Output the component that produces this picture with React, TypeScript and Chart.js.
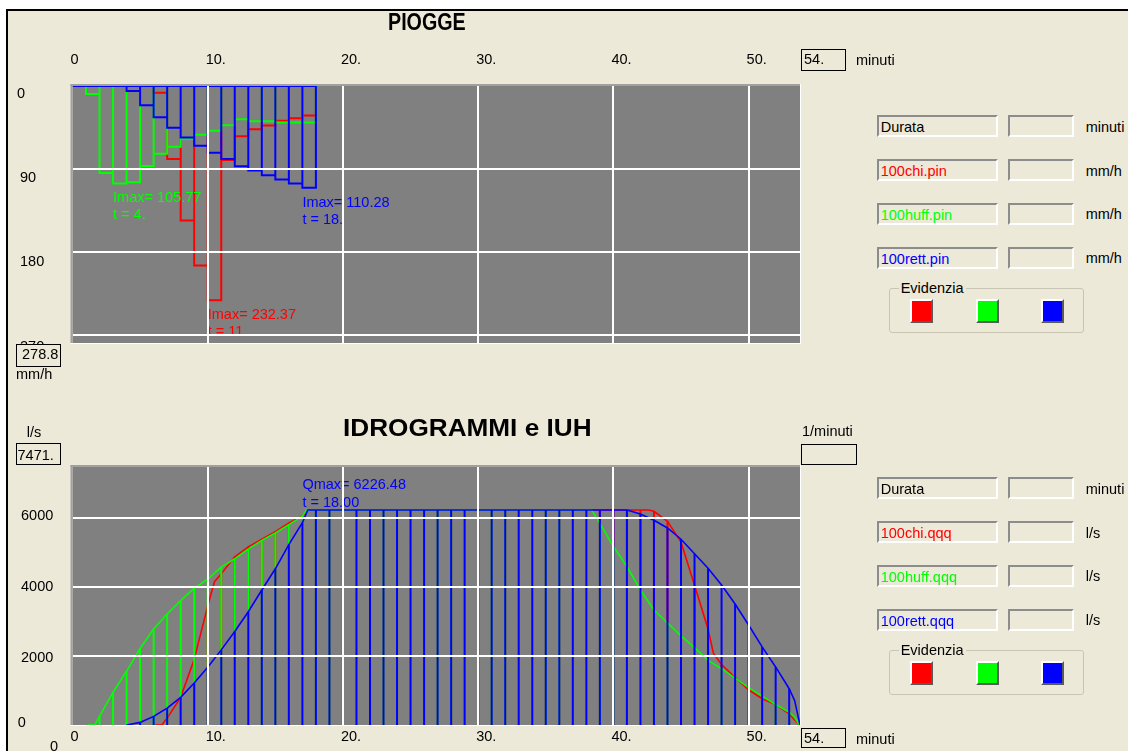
import React, { useEffect, useRef } from 'react';
import { Chart, registerables } from 'chart.js';

Chart.register(...registerables);

const FONT = '"Liberation Sans", Arial, sans-serif';
const FS = 14.5;
const RED = '#ff0000';
const GREEN = '#00ff00';
const BLUE = '#0000ff';
const GRID = '#ffffff';
const PLOT_BG = '#808080';
const PANEL_BG = '#ece9d8';

// time axis (minutes), shared by both charts
const X_MAX = 53.8;
const X_TICKS = [0, 10, 20, 30, 40, 50];

// ---------- PIOGGE: hyetographs, mm/h for each 1-minute interval ----------
const RAIN_Y_MAX = 278.8;
const RAIN_Y_TICKS = [0, 90, 180, 270];
const RAIN_RED = [0, 0, 0, 0, 0, 0, 7.2, 79.2, 145.8, 194.8, 232.37, 80.3, 54.4, 46.8, 42.8, 37.8, 34.9, 32.0];
const RAIN_GREEN = [0, 8.6, 94.3, 105.77, 104.4, 86.8, 73.4, 65.9, 57.2, 52.9, 48.6, 42.5, 36.0, 38.2, 38.2, 39.6, 39.6, 39.6];
const RAIN_BLUE = [0, 0, 0, 0, 5.4, 20.9, 33.8, 45.4, 55.8, 64.8, 72.4, 79.2, 87.1, 91.8, 96.8, 101.5, 105.8, 110.28];

// ---------- IDROGRAMMI: discharge l/s at each whole minute 0..53 ----------
const Q_Y_MAX = 7471;
const Q_Y_TICKS = [0, 2000, 4000, 6000];
const P = 6226.48;
const Q_RED = [null, null, null, null, null, null, null, 200, 800, 1900, 3450, 4380, 4870, 5160, 5380, 5600, 5850, 6050,
  P, P, P, P, P, P, P, P, P, P, P, P, P, P, P, P, P, P, P, P, P, P, P, P, P,
  6190, 5900, 5300, 4050, 2780, 1750, 1370, 1020, 760, 590, 320];
const Q_GREEN = [null, null, 250, 950, 1555, 2215, 2778, 3212, 3601, 3960, 4221, 4570, 4813, 5095, 5347, 5560, 5803, 6046,
  P, P, P, P, P, P, P, P, P, P, P, P, P, P, P, P, P, P, P, P, P,
  5840, 5172, 4590, 3910, 3330, 2960, 2580, 2242, 1873, 1630, 1360, 1080, 837, 594, 371];
const Q_BLUE = [null, null, null, null, 0, 75, 250, 490, 800, 1215, 1670, 2175, 2710, 3280, 3910, 4524, 5222, 5860,
  P, P, P, P, P, P, P, P, P, P, P, P, P, P, P, P, P, P, P, P, P, P, P, P,
  6110, 5930, 5706, 5380, 4960, 4541, 4056, 3505, 2895, 2263, 1681, 1050];
// extra (non whole-minute) vertices of the curves
const Q_RED_BREAK_T = [6.1, 6.6, 10.5, 17.4, 42.6, 47.4, 53.75];
const Q_RED_BREAK_V = [0, 0, 4150, P, P, 2070, 0];
const Q_GREEN_BREAK_T = [1.15, 1.65, 17.3, 38.4, 53.4, 53.75];
const Q_GREEN_BREAK_V = [0, 0, P, P, 225, 0];
const Q_BLUE_BREAK_T = [17.4, 53.4, 53.8];
const Q_BLUE_BREAK_V = [P, 711, 0];

const RAIN_FILES = ['100chi.pin', '100huff.pin', '100rett.pin'];
const Q_FILES = ['100chi.qqq', '100huff.qqq', '100rett.qqq'];
const SERIES_COLORS = [RED, GREEN, BLUE];

type Pt = { x: number; y: number | null };

function rainOutline(vals: number[]): Pt[] {
  const pts: Pt[] = [{ x: 0, y: 0 }];
  vals.forEach((v, i) => {
    pts.push({ x: i, y: v }, { x: i + 1, y: v }, { x: i + 1, y: 0 });
  });
  pts.push({ x: 0, y: 0 });
  return pts;
}

function curve(vals: (number | null)[], bt: number[], bv: number[]): Pt[] {
  const pts: Pt[] = [];
  vals.forEach((v, i) => { if (v !== null) pts.push({ x: i, y: v }); });
  bt.forEach((t, k) => pts.push({ x: t, y: bv[k] }));
  pts.sort((a, b) => a.x - b.x);
  return pts;
}

function verticals(vals: (number | null)[]): Pt[] {
  const pts: Pt[] = [];
  vals.forEach((v, i) => {
    if (v) pts.push({ x: i, y: 0 }, { x: i, y: v }, { x: i, y: null });
  });
  return pts;
}

const bgPlugin = {
  id: 'plotBg',
  beforeDraw(chart: any) {
    const { ctx, chartArea: a } = chart;
    ctx.save();
    ctx.fillStyle = PLOT_BG;
    ctx.fillRect(a.left, a.top, a.right - a.left, a.bottom - a.top);
    ctx.restore();
  },
};

const framePlugin = {
  id: 'frame',
  afterDraw(chart: any) {
    const { ctx, chartArea: a } = chart;
    ctx.save();
    ctx.fillStyle = '#a0a0a0';
    ctx.fillRect(a.left - 2, a.top - 2, a.right - a.left + 2, 2);
    ctx.fillRect(a.left - 2, a.top - 2, 2, a.bottom - a.top + 2);
    ctx.fillStyle = '#ffffff';
    ctx.fillRect(a.left - 2, a.bottom, a.right - a.left + 3, 1);
    ctx.fillRect(a.right, a.top - 2, 1, a.bottom - a.top + 3);
    ctx.restore();
  },
};

function gridOpts() {
  return {
    z: 1,
    lineWidth: 2,
    drawTicks: false,
    color: (c: any) => (c.tick && c.tick.value === 0 ? 'rgba(0,0,0,0)' : GRID),
  };
}

function peakOf(vals: (number | null)[]) {
  let best = -Infinity;
  let idx = 0;
  vals.forEach((v, i) => { if (v !== null && v > best) { best = v; idx = i; } });
  return { value: best, index: idx };
}

function TopChart() {
  const ref = useRef<HTMLCanvasElement>(null);
  useEffect(() => {
    const series = [
      { vals: RAIN_RED, color: RED },
      { vals: RAIN_GREEN, color: GREEN },
      { vals: RAIN_BLUE, color: BLUE },
    ];
    const chart = new Chart(ref.current as HTMLCanvasElement, {
      type: 'line',
      data: {
        datasets: series.map((s, k) => ({
          data: rainOutline(s.vals) as any,
          borderColor: s.color,
          borderWidth: 2,
          pointRadius: 0,
          fill: false,
          tension: 0,
          order: 10 - k,
        })),
      },
      options: {
        animation: false,
        responsive: false,
        events: [],
        layout: { padding: { left: 0, top: 0, right: 20, bottom: 37 } },
        plugins: { legend: { display: false }, tooltip: { enabled: false } },
        scales: {
          x: {
            type: 'linear', position: 'top', min: 0, max: X_MAX,
            afterBuildTicks: (s: any) => { s.ticks = X_TICKS.map((value) => ({ value })); },
            afterFit: (s: any) => { s.height = 86; },
            ticks: { display: false },
            border: { display: false },
            grid: gridOpts() as any,
          },
          y: {
            type: 'linear', reverse: true, min: 0, max: RAIN_Y_MAX,
            afterBuildTicks: (s: any) => { s.ticks = RAIN_Y_TICKS.map((value) => ({ value })); },
            afterFit: (s: any) => { s.width = 72.5; },
            ticks: { display: false },
            border: { display: false },
            grid: gridOpts() as any,
          },
        },
      },
      plugins: [
        bgPlugin,
        framePlugin,
        {
          id: 'rainText',
          afterDatasetsDraw(c: any) {
            const { ctx, chartArea: a, scales } = c;
            ctx.save();
            ctx.beginPath();
            ctx.rect(a.left, a.top, a.right - a.left, a.bottom - a.top);
            ctx.clip();
            ctx.font = `${FS}px ${FONT}`;
            ctx.textBaseline = 'alphabetic';
            ctx.textAlign = 'left';
            series.forEach((s) => {
              const pk = peakOf(s.vals);
              const x = scales.x.getPixelForValue(pk.index);
              const y = scales.y.getPixelForValue(pk.value);
              ctx.fillStyle = s.color;
              ctx.fillText(`Imax= ${pk.value.toFixed(2)}`, x, y + 19);
              ctx.fillText(`t = ${pk.index + 1}.`, x, y + 36);
            });
            ctx.restore();
          },
          afterDraw(c: any) {
            const { ctx, scales } = c;
            ctx.save();
            ctx.font = `${FS}px ${FONT}`;
            ctx.fillStyle = '#000';
            ctx.textBaseline = 'alphabetic';
            ctx.textAlign = 'left';
            X_TICKS.forEach((v) => {
              const px = scales.x.getPixelForValue(v);
              ctx.fillText(v === 0 ? '0' : `${v}.`, px - 2, 64.3);
            });
            RAIN_Y_TICKS.forEach((v) => {
              const py = scales.y.getPixelForValue(v);
              ctx.fillText(String(v), v === 0 ? 17 : 20, py + 11.5 + v / 60);
            });
            ctx.restore();
          },
        },
      ],
    } as any);
    return () => chart.destroy();
  }, []);
  return <canvas ref={ref} width={820} height={380} style={{ position: 'absolute', left: 0, top: 0, display: 'block' }} />;
}

function BottomChart() {
  const ref = useRef<HTMLCanvasElement>(null);
  useEffect(() => {
    const series = [
      { vals: Q_RED, bt: Q_RED_BREAK_T, bv: Q_RED_BREAK_V, color: RED },
      { vals: Q_GREEN, bt: Q_GREEN_BREAK_T, bv: Q_GREEN_BREAK_V, color: GREEN },
      { vals: Q_BLUE, bt: Q_BLUE_BREAK_T, bv: Q_BLUE_BREAK_V, color: BLUE },
    ];
    const datasets: any[] = [];
    series.forEach((s, k) => {
      datasets.push({
        data: verticals(s.vals), borderColor: s.color, borderWidth: 2, pointRadius: 0,
        fill: false, tension: 0, spanGaps: false, order: 20 - 2 * k,
      });
      datasets.push({
        data: curve(s.vals, s.bt, s.bv), borderColor: s.color, borderWidth: 1.6, pointRadius: 0,
        fill: false, tension: 0, order: 19 - 2 * k,
      });
    });
    const blue = peakOf(Q_BLUE);
    const chart = new Chart(ref.current as HTMLCanvasElement, {
      type: 'line',
      data: { datasets },
      options: {
        animation: false,
        responsive: false,
        events: [],
        layout: { padding: { left: 0, top: 87, right: 20, bottom: 0 } },
        plugins: { legend: { display: false }, tooltip: { enabled: false } },
        scales: {
          x: {
            type: 'linear', position: 'bottom', min: 0, max: X_MAX,
            afterBuildTicks: (s: any) => { s.ticks = X_TICKS.map((value) => ({ value })); },
            afterFit: (s: any) => { s.height = 26; },
            ticks: { display: false },
            border: { display: false },
            grid: gridOpts() as any,
          },
          y: {
            type: 'linear', min: 0, max: Q_Y_MAX,
            afterBuildTicks: (s: any) => { s.ticks = Q_Y_TICKS.map((value) => ({ value })); },
            afterFit: (s: any) => { s.width = 72.5; },
            ticks: { display: false },
            border: { display: false },
            grid: gridOpts() as any,
          },
        },
      },
      plugins: [
        bgPlugin,
        framePlugin,
        {
          id: 'qText',
          afterDatasetsDraw(c: any) {
            const { ctx, chartArea: a, scales } = c;
            ctx.save();
            ctx.beginPath();
            ctx.rect(a.left, a.top, a.right - a.left, a.bottom - a.top);
            ctx.clip();
            ctx.font = `${FS}px ${FONT}`;
            ctx.textBaseline = 'alphabetic';
            ctx.textAlign = 'left';
            const x = scales.x.getPixelForValue(blue.index - 1);
            const y = scales.y.getPixelForValue(blue.value);
            ctx.fillStyle = BLUE;
            ctx.fillText(`Qmax= ${blue.value.toFixed(2)}`, x, y - 21);
            ctx.fillText(`t = ${blue.index.toFixed(2)}`, x, y - 3);
            ctx.restore();
          },
          afterDraw(c: any) {
            const { ctx, scales } = c;
            ctx.save();
            ctx.font = `${FS}px ${FONT}`;
            ctx.fillStyle = '#000';
            ctx.textBaseline = 'alphabetic';
            ctx.textAlign = 'left';
            X_TICKS.forEach((v) => {
              const px = scales.x.getPixelForValue(v);
              ctx.fillText(v === 0 ? '0' : `${v}.`, px - 2, 361);
            });
            Q_Y_TICKS.forEach((v) => {
              const py = scales.y.getPixelForValue(v);
              const base = v === 0 ? py + 1.5 : py + 2.5 + (6000 - v) / 1000;
              ctx.fillText(String(v), v === 0 ? 17.7 : 21, base);
            });
            ctx.restore();
          },
        },
      ],
    } as any);
    return () => chart.destroy();
  }, []);
  return <canvas ref={ref} width={820} height={371} style={{ position: 'absolute', left: 0, top: 380, display: 'block' }} />;
}

function Txt(props: { x: number; base: number; children: React.ReactNode; color?: string; size?: number; bold?: boolean; sx?: number }) {
  const size = props.size || FS;
  return (
    <span
      style={{
        position: 'absolute', left: props.x, top: props.base - 0.8465 * size, fontSize: size, lineHeight: 1,
        fontWeight: props.bold ? 'bold' : 'normal', color: props.color || '#000', whiteSpace: 'nowrap',
        fontFamily: FONT, transform: props.sx ? `scaleX(${props.sx})` : undefined, transformOrigin: 'left top',
      }}
    >
      {props.children}
    </span>
  );
}

function BlackBox(props: { x: number; y: number; w: number; h: number }) {
  return (
    <div
      style={{
        position: 'absolute', left: props.x, top: props.y, width: props.w, height: props.h, boxSizing: 'border-box',
        border: '1px solid #000', background: PANEL_BG,
      }}
    />
  );
}

function Sunken(props: { x: number; y: number; w: number; h: number }) {
  return (
    <div
      style={{
        position: 'absolute', left: props.x, top: props.y, width: props.w, height: props.h, boxSizing: 'border-box',
        borderStyle: 'solid', borderWidth: 2, borderColor: '#8c8c8c #ffffff #ffffff #8c8c8c',
      }}
    />
  );
}

function SidePanel(props: { dy: number; files: string[]; units: string[] }) {
  const rows = [115, 159, 202.7, 246.7];
  const names = ['Durata', ...props.files];
  const colors = ['#000', ...SERIES_COLORS];
  const dy = props.dy;
  return (
    <>
      {rows.map((r, i) => (
        <React.Fragment key={i}>
          <Sunken x={877.3} y={dy + r} w={121} h={22.3} />
          <Sunken x={1008.3} y={dy + r} w={65.7} h={22.3} />
          <Txt x={880.7} base={dy + r + 17.3} color={colors[i]}>{names[i]}</Txt>
          <Txt x={1085.7} base={dy + r + 16.8}>{props.units[i]}</Txt>
        </React.Fragment>
      ))}
      <div
        style={{
          position: 'absolute', left: 889.3, top: dy + 288.3, width: 195, height: 45, boxSizing: 'border-box',
          border: '1px solid #c8c5b5', borderRadius: 3,
        }}
      />
      <span
        style={{
          position: 'absolute', left: 898.7, top: dy + 293.7 - 0.8465 * FS, fontSize: FS, lineHeight: 1, padding: '0 2px',
          background: PANEL_BG, fontFamily: FONT, color: '#000',
        }}
      >
        Evidenzia
      </span>
      {[910, 975.7, 1041].map((x, i) => (
        <div
          key={i}
          style={{
            position: 'absolute', left: x, top: dy + 299.3, width: 23.3, height: 24, boxSizing: 'border-box',
            borderStyle: 'solid', borderWidth: 2, borderColor: '#ffffff #5a5a5a #5a5a5a #ffffff', background: SERIES_COLORS[i],
          }}
        />
      ))}
    </>
  );
}

export default function App() {
  return (
    <div style={{ position: 'absolute', left: 0, top: 0, width: 1128, height: 751, overflow: 'hidden', background: '#fff', fontFamily: FONT }}>
      <div
        style={{
          position: 'absolute', left: 6, top: 9, width: 1130, height: 750, boxSizing: 'border-box', background: PANEL_BG,
          borderLeft: '2px solid #000', borderTop: '2px solid #000',
        }}
      />
      <TopChart />
      <BottomChart />

      <Txt x={388} base={30.7} size={24} bold sx={0.82}>PIOGGE</Txt>
      <Txt x={343} base={436} size={24} bold sx={1.09}>IDROGRAMMI e IUH</Txt>

      <BlackBox x={801} y={49} w={45} h={22} />
      <Txt x={804} base={64.7}>54.</Txt>
      <Txt x={856} base={65.7}>minuti</Txt>

      <BlackBox x={16} y={344} w={45} h={23} />
      <Txt x={22} base={359.3}>278.8</Txt>
      <Txt x={16} base={379}>mm/h</Txt>

      <Txt x={26.7} base={437}>l/s</Txt>
      <BlackBox x={16} y={442.7} w={45} h={22.3} />
      <Txt x={17.5} base={460.7}>7471.</Txt>

      <Txt x={802} base={436}>1/minuti</Txt>
      <BlackBox x={801} y={444} w={56} h={21} />

      <BlackBox x={801} y={728} w={45} h={20} />
      <Txt x={804} base={743.5}>54.</Txt>
      <Txt x={856} base={744}>minuti</Txt>
      <Txt x={50} base={751.5}>0</Txt>

      <SidePanel dy={0} files={RAIN_FILES} units={['minuti', 'mm/h', 'mm/h', 'mm/h']} />
      <SidePanel dy={362} files={Q_FILES} units={['minuti', 'l/s', 'l/s', 'l/s']} />
    </div>
  );
}
